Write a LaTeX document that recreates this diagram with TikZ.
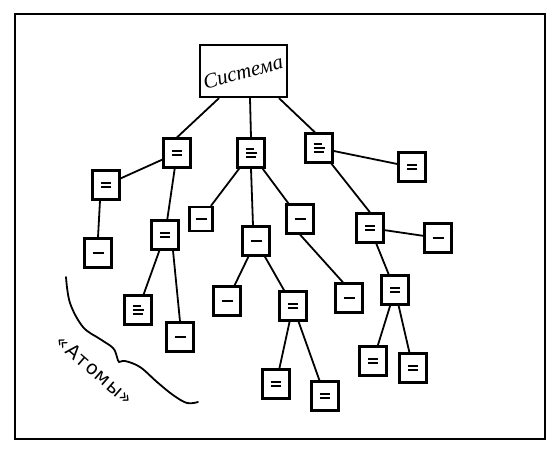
\documentclass[tikz,border=0pt]{standalone}
\usepackage{fontspec}
\newfontfamily\handfont{Liberation Serif}
\newfontfamily\atomfont[LetterSpace=6]{DejaVu Sans}
\newcommand\mkone{\vbox{\hrule width 11pt height 1.7pt}}
\newcommand\mktwo{\vbox{\hrule width 10pt height 1.7pt\vskip 2.6pt\hrule width 10pt height 1.7pt}}
\newcommand\mkthree{\vbox{\hrule width 8pt height 1.7pt\vskip 2.4pt\hrule width 11pt height 1.7pt\vskip 2.4pt\hrule width 10pt height 1.7pt}}
\begin{document}
\begin{tikzpicture}[x=1pt,y=-1pt,
  bx/.style={draw, line width=2.2pt, minimum width=27pt, minimum height=29pt, inner sep=0pt},
  sbx/.style={bx, minimum width=23pt, minimum height=24pt},
  conn/.style={line width=1.8pt},
  frame/.style={line width=2.4pt}]
\useasboundingbox (0,0) rectangle (551,449);
\draw[frame] (15,14) rectangle (545,439);
% top node
\node[draw, line width=2.3pt, minimum width=87pt, minimum height=52pt, inner sep=0pt] (sys) at (243.5,71) {};
\node[rotate=15, font=\handfont\itshape\fontsize{21}{21}\selectfont] (systxt) at (243,72) {Система};
% level 1
\node[bx] (A) at (177,153) {\mktwo};
\node[bx] (B) at (251,153) {\mkthree};
\node[bx] (C) at (319,148) {\mkthree};
% A subtree
\node[bx] (D) at (106,185) {\mktwo};
\node[bx] (E) at (165,235) {\mktwo};
\node[bx] (F) at (98,253) {\mkone};
\node[bx] (G) at (138,310) {\mkthree};
\node[bx] (H) at (180,337) {\mkone};
% B subtree
\node[sbx] (I) at (201,219) {\mkone};
\node[bx] (J) at (256,241) {\mkone};
\node[bx] (K) at (300,219) {\mkone};
\node[bx] (L) at (227,301) {\mkone};
\node[bx] (M) at (293,306) {\mktwo};
\node[bx] (N) at (276,384) {\mktwo};
\node[bx] (O) at (325,396) {\mktwo};
\node[bx] (P) at (349,298) {\mkone};
% C subtree
\node[bx] (Q) at (412,167) {\mktwo};
\node[bx] (R) at (370,228) {\mktwo};
\node[bx] (S) at (438,238) {\mkone};
\node[bx] (T) at (395,290) {\mktwo};
\node[bx] (U) at (373,361) {\mktwo};
\node[bx] (V) at (413,368) {\mktwo};
% connectors
\draw[conn] ([xshift=-24.5pt]sys.south) -- (A.north);
\draw[conn] ([xshift=6.5pt]sys.south) -- (B.north);
\draw[conn] ([xshift=35.5pt]sys.south) -- ([xshift=-4pt]C.north);
\draw[conn] (A) -- (D);
\draw[conn] (A) -- (E);
\draw[conn] ([xshift=-6pt]D.south) -- (F.north);
\draw[conn] (E) -- (G);
\draw[conn] ([xshift=8pt]E.south) -- (H.north);
\draw[conn] (B) -- (I);
\draw[conn] (B.south) -- ([xshift=-3pt]J.north);
\draw[conn] (B) -- (K);
\draw[conn] (J) -- (L);
\draw[conn] (J) -- (M);
\draw[conn] (M) -- (N);
\draw[conn] (M) -- (O);
\draw[conn] (K.south) -- ([xshift=-6pt]P.north);
\draw[conn] (C) -- (Q);
\draw[conn] (C) -- (R.north);
\draw[conn] (R) -- (S);
\draw[conn] (R) -- (T);
\draw[conn] (T) -- (U);
\draw[conn] (T) -- (V);
% atoms boundary
\draw[line width=1.8pt, line cap=round] plot[smooth, tension=0.6] coordinates {(66,277) (70,303) (83,327) (100,339) (113,348) (117,357) (119,362) (125,361) (140,367) (157,382) (173,395) (187,403) (198,402)};
\node[rotate=-41, font=\atomfont\fontsize{19}{19}\selectfont, inner sep=0pt] (atoms) at (95,370) {«Атомы»};
\end{tikzpicture}
\end{document}
